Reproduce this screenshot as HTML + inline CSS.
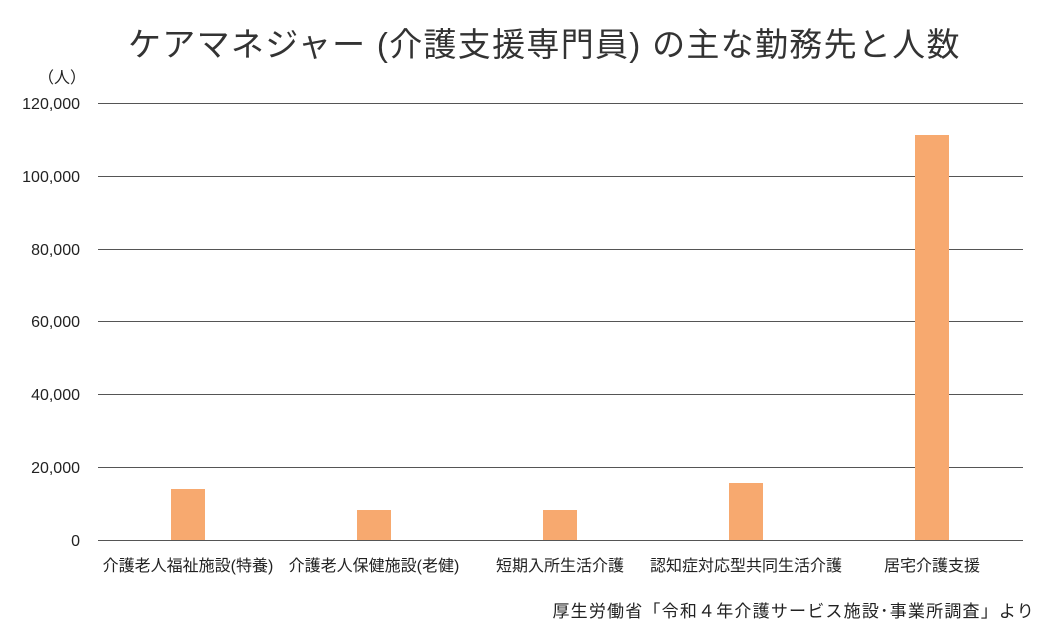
<!DOCTYPE html>
<html><head><meta charset="utf-8"><style>
html,body{margin:0;padding:0;background:#fff;}
body{width:1043px;height:640px;position:relative;overflow:hidden;font-family:"Liberation Sans","Noto Sans CJK JP",sans-serif;color:#222;}
.t{position:absolute;white-space:nowrap;}
</style></head><body>
<div class="t" style="left:128px;top:18px;font-size:33px;letter-spacing:1.3px;color:#333;">ケアマネジャー (介護支援専門員) の主な勤務先と人数</div>
<div class="t" style="left:38px;top:64px;font-size:16px;">（人）</div>
<svg width="1043" height="640" style="position:absolute;left:0;top:0">
<g stroke="#555" stroke-width="1">
<line x1="98" x2="1023" y1="103.5" y2="103.5"/>
<line x1="98" x2="1023" y1="176.5" y2="176.5"/>
<line x1="98" x2="1023" y1="249.5" y2="249.5"/>
<line x1="98" x2="1023" y1="321.5" y2="321.5"/>
<line x1="98" x2="1023" y1="394.5" y2="394.5"/>
<line x1="98" x2="1023" y1="467.5" y2="467.5"/>
<line x1="98" x2="1023" y1="540.5" y2="540.5"/>
</g>
<g fill="#F7A96F">
<rect x="171" y="489" width="34" height="51"/>
<rect x="357" y="510" width="34" height="30"/>
<rect x="543" y="510" width="34" height="30"/>
<rect x="729" y="483" width="34" height="57"/>
<rect x="915" y="135" width="34" height="405"/>
</g>
<g font-family="Liberation Sans, sans-serif" font-size="16" fill="#222" text-anchor="end">
<text x="80" y="109">120,000</text>
<text x="80" y="182">100,000</text>
<text x="80" y="255">80,000</text>
<text x="80" y="327">60,000</text>
<text x="80" y="400">40,000</text>
<text x="80" y="473">20,000</text>
<text x="80" y="546">0</text>
</g>
<g font-family="Liberation Sans, Noto Sans CJK JP, sans-serif" font-size="16" fill="#222" text-anchor="middle">
<text x="188" y="571">介護老人福祉施設(特養)</text>
<text x="374" y="571">介護老人保健施設(老健)</text>
<text x="560" y="571">短期入所生活介護</text>
<text x="746" y="571">認知症対応型共同生活介護</text>
<text x="932" y="571">居宅介護支援</text>
<text x="1035" y="617" text-anchor="end" font-size="17" letter-spacing="1.2">厚生労働省「令和４年介護サービス施設･事業所調査」より</text>
</g>
</svg>
</body></html>
